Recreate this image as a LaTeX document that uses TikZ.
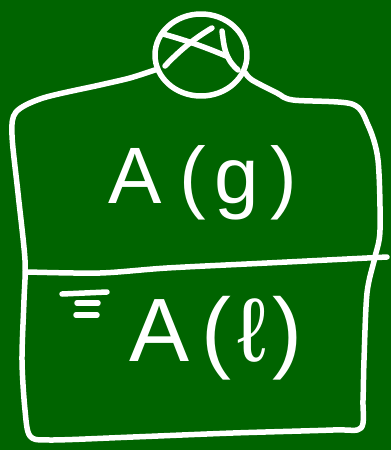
\documentclass[tikz,border=0pt]{standalone}
\usepackage{fontspec}
\setmainfont{Liberation Sans}
\usepackage{tikz}
\usetikzlibrary{shapes.geometric}
\definecolor{board}{HTML}{006400}
\tikzset{
  chalk/.style={draw=white, line width=5.5pt, line cap=round, line join=round},
  capnode/.style={ellipse, chalk, minimum width=92pt, minimum height=82pt, inner sep=0pt},
  lbl/.style={text=white, inner sep=0pt},
}

\begin{document}
\begin{tikzpicture}[x=1pt,y=-1pt]
    \fill[board] (0,0) rectangle (391,450);
    \useasboundingbox (0,0) rectangle (391,450);
    % cap with its cross
    \node[capnode] (cap) at (201,55) {};
    \draw[chalk] (163,34) .. controls (185,40) and (205,47) .. (226,56);
    \draw[chalk] (165,66) .. controls (180,50) and (195,38) .. (212,28);
    \draw[chalk] (222,31) .. controls (224,45) and (224,58) .. (238,70);
    % vessel
    \draw[chalk] plot[smooth, tension=0.5] coordinates {(cap.198) (130,78) (100,85) (43,98) (16,112) (12,135) (18,193) (25,260) (24,300) (22,360) (25,410) (30,436) (50,440) (133,437) (233,433) (333,430) (361,428) (363,400) (364,360) (367,293) (375,257) (380,230) (378,160) (368,125) (352,104) (293,100) (277,93) (252,80) (cap.-22)};
    % phase boundary
    \draw[chalk] plot[smooth, tension=0.5] coordinates {(28,272) (100,273) (167,268) (267,263) (387,257)};
    % level mark
    \draw[chalk] (62,294) -- (107,292);
    \draw[chalk] (77,303) -- (98,303);
    \draw[chalk] (76,315) -- (97,315);
    % labels
    \node[lbl, font=\fontsize{80}{80}\selectfont] (gas) at (203,183) {A\hspace{18pt}(\hspace{8pt}g\hspace{12pt})};
    \node[lbl, font=\fontsize{90}{90}\selectfont] (liq) at (216,338) {A\hspace{12pt}(\hspace{6pt}ℓ\hspace{6pt})};
\end{tikzpicture}
\end{document}
